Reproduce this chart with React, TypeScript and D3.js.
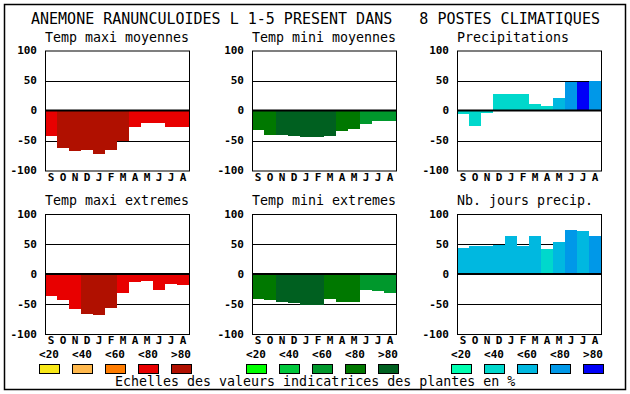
import * as d3 from "d3";
import React from "react";

// titre et libelles
const chartTitle = "ANEMONE RANUNCULOIDES L 1-5 PRESENT DANS   8 POSTES CLIMATIQUES";
const legendCaption = "Echelles des valeurs indicatrices des plantes en %";
const months = ["S", "O", "N", "D", "J", "F", "M", "A", "M", "J", "J", "A"];
const yTicks = [100, 50, 0, -50, -100];
const legendLabels = ["<20", "<40", "<60", "<80", ">80"];

// palettes (classe 0..4)
const redPalette = ["#f8e818", "#ffb84c", "#ff7c00", "#e80000", "#b01000"];
const greenPalette = ["#00ff00", "#00c83c", "#00982c", "#007800", "#006020"];
const bluePalette = ["#00ffb0", "#00d8cc", "#00b8e0", "#0098e8", "#0000f8"];

// valeurs
const maxiMoyValues = [-43, -62, -67, -66, -73, -65, -50, -27, -21, -21, -27, -27];
const maxiMoyClasses = [3, 4, 4, 4, 4, 4, 4, 3, 3, 3, 3, 3];
const miniMoyValues = [-32, -40, -40, -42, -44, -44, -42, -34, -30, -22, -17, -17];
const miniMoyClasses = [3, 3, 4, 4, 4, 4, 4, 3, 3, 2, 2, 2];
const precipValues = [-6, -26, -4, 27, 27, 27, 11, 7, 21, 48, 48, 49];
const precipClasses = [1, 1, 1, 1, 1, 1, 1, 1, 2, 3, 4, 3];
const maxiExtValues = [-36, -44, -58, -66, -68, -56, -31, -13, -11, -26, -16, -18];
const maxiExtClasses = [3, 3, 3, 4, 4, 4, 3, 3, 3, 3, 3, 3];
const miniExtValues = [-41, -44, -46, -49, -52, -52, -41, -46, -46, -26, -28, -31];
const miniExtClasses = [3, 3, 4, 4, 4, 4, 3, 3, 3, 2, 2, 2];
const joursValues = [44, 46, 47, 49, 64, 46, 64, 42, 54, 74, 72, 64];
const joursClasses = [2, 2, 2, 2, 2, 2, 2, 1, 2, 3, 2, 3];

const panels = [
    {name: "Temp maxi moyennes", values: maxiMoyValues, classes: maxiMoyClasses, palette: redPalette, col: 0, row: 0},
    {name: "Temp mini moyennes", values: miniMoyValues, classes: miniMoyClasses, palette: greenPalette, col: 1, row: 0},
    {name: "Precipitations", values: precipValues, classes: precipClasses, palette: bluePalette, col: 2, row: 0},
    {name: "Temp maxi extremes", values: maxiExtValues, classes: maxiExtClasses, palette: redPalette, col: 0, row: 1},
    {name: "Temp mini extremes", values: miniExtValues, classes: miniExtClasses, palette: greenPalette, col: 1, row: 1},
    {name: "Nb. jours precip.", values: joursValues, classes: joursClasses, palette: bluePalette, col: 2, row: 1},
];
const legendPalettes = [redPalette, greenPalette, bluePalette];

const FONT = "'DejaVu Sans Mono', monospace";
const colLefts = [45, 252, 457];
const rowTops = [50.5, 214];
const plotW = 144;
const plotH = 120;

const Panel = ({p}) => {
    const x0 = colLefts[p.col];
    const y0 = rowTops[p.row];
    const x = d3.scaleBand().domain(d3.range(12)).range([x0, x0 + plotW]).padding(0);
    const y = d3.scaleLinear().domain([-100, 100]).range([y0 + plotH, y0]);

    return (
        <g>
            <text x={x0} y={y0 - 9} fontSize={13.3} fontFamily={FONT}>{p.name}</text>
            {[50, -50].map(t => (
                <line key={t} x1={x0} x2={x0 + plotW} y1={Math.round(y(t)) + 0.5} y2={Math.round(y(t)) + 0.5}
                      stroke="black" strokeWidth={1}/>
            ))}
            {p.values.map((v, i) => (
                <rect key={i} x={x(i)} width={x.bandwidth()}
                      y={Math.min(y(0), y(v))} height={Math.abs(y(v) - y(0))}
                      fill={p.palette[p.classes[i]]} shapeRendering="crispEdges"/>
            ))}
            <line x1={x0} x2={x0 + plotW} y1={y(0)} y2={y(0)} stroke="black" strokeWidth={2}/>
            <rect x={x0 + 0.5} y={y0 + 0.5} width={plotW} height={plotH} fill="none" stroke="black" strokeWidth={1}/>
            {yTicks.map(t => (
                <text key={t} x={x0 - 8} y={y(t)} dy="0.35em" textAnchor="end" fontSize={11}
                      fontWeight="bold" fontFamily={FONT}>{t}</text>
            ))}
            {months.map((m, i) => (
                <text key={i} x={x(i) + x.bandwidth() / 2} y={y0 + plotH + 10} textAnchor="middle"
                      fontSize={11} fontWeight="bold" fontFamily={FONT}>{m}</text>
            ))}
        </g>
    );
};

const Legend = ({palette, col}) => {
    const x0 = colLefts[col];
    const lx = d3.scalePoint().domain(legendLabels).range([x0 + 4, x0 + 136]);
    return (
        <g>
            {legendLabels.map((l, i) => (
                <g key={l}>
                    <text x={lx(l)} y={357.5} textAnchor="middle" fontSize={11} fontWeight="bold"
                          fontFamily={FONT}>{l}</text>
                    <rect x={Math.round(lx(l) - 10) + 0.5} y={364.5} width={20} height={9}
                          fill={palette[i]} stroke="black" strokeWidth={1}/>
                </g>
            ))}
        </g>
    );
};

const App = () => {
    return (
        <svg width={630} height={394} style={{position: "absolute", left: 0, top: 0, background: "white"}}>
            <rect x={4.5} y={4.5} width={621} height={385} fill="white" stroke="black" strokeWidth={1.5}/>
            <text x={31} y={23.5} fontSize={15} fontFamily={FONT} style={{whiteSpace: "pre"}}>{chartTitle}</text>
            {panels.map(p => <Panel key={p.name} p={p}/>)}
            {legendPalettes.map((pal, i) => <Legend key={i} palette={pal} col={i}/>)}
            <text x={115} y={386} fontSize={13.3} fontFamily={FONT}>{legendCaption}</text>
        </svg>
    );
};

export default App;
